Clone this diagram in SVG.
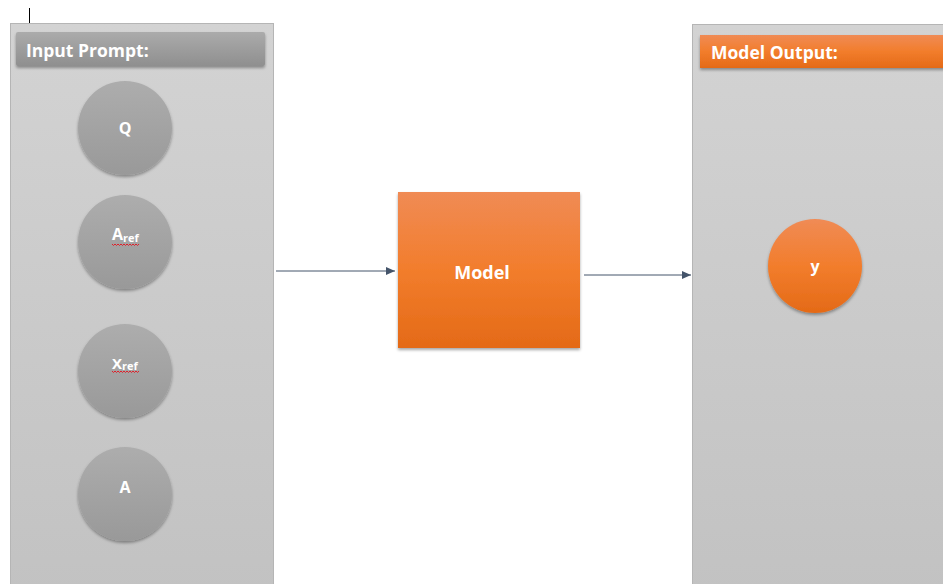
<svg xmlns="http://www.w3.org/2000/svg" width="943" height="584" viewBox="0 0 943 584">
<defs>
<linearGradient id="panel" x1="0" y1="0" x2="0" y2="1"><stop offset="0" stop-color="#d3d3d3"/><stop offset="1" stop-color="#c2c2c2"/></linearGradient>
<linearGradient id="grayBar" x1="0" y1="0" x2="0" y2="1"><stop offset="0" stop-color="#ababab"/><stop offset="1" stop-color="#8f8f8f"/></linearGradient>
<linearGradient id="grayCircle" x1="0" y1="0" x2="0" y2="1"><stop offset="0" stop-color="#adadad"/><stop offset="1" stop-color="#999999"/></linearGradient>
<linearGradient id="orange" x1="0" y1="0" x2="0" y2="1"><stop offset="0" stop-color="#f08b55"/><stop offset="0.5" stop-color="#f27d2c"/><stop offset="1" stop-color="#e46a17"/></linearGradient>
<filter id="sh" x="-20%" y="-20%" width="140%" height="140%"><feDropShadow dx="0" dy="2" stdDeviation="1.5" flood-color="#000" flood-opacity="0.35"/></filter>
<marker id="arr" markerWidth="10" markerHeight="8" refX="9" refY="4" orient="auto" markerUnits="userSpaceOnUse"><path d="M0,0 L9,4 L0,8 Z" fill="#44546a"/></marker>
</defs>
<style>
.lbl{font-family:"Open Sans","Liberation Sans",sans-serif;font-weight:700;fill:#ffffff}
.conn{stroke:#44546a;stroke-width:1;fill:none}
.squig{stroke:#e0202a;stroke-width:1;fill:none}
</style>
<rect width="943" height="584" fill="#ffffff"/>
<line x1="29.5" y1="8" x2="29.5" y2="24" stroke="#000" stroke-width="1"/>
<g id="input-panel">
<rect x="10.5" y="23.5" width="263" height="570" fill="url(#panel)" stroke="#b5b5b5"/>
<rect x="16" y="32" width="249" height="34" rx="2" fill="url(#grayBar)" filter="url(#sh)"/>
<text class="lbl" x="26" y="57" font-size="17.5">Input Prompt:</text>
</g>
<g id="node-Q">
<circle cx="125" cy="128" r="47" fill="url(#grayCircle)" filter="url(#sh)"/>
<text class="lbl" x="125" y="134" font-size="16" text-anchor="middle">Q</text>
</g>
<g id="node-Aref">
<circle cx="125" cy="242" r="47" fill="url(#grayCircle)" filter="url(#sh)"/>
<text class="lbl" x="112" y="240" font-size="16">A<tspan font-size="11" dy="2">ref</tspan></text>
<path class="squig" d="M112,244 l1.5,1.5 l1.5,-1.5 l1.5,1.5 l1.5,-1.5 l1.5,1.5 l1.5,-1.5 l1.5,1.5 l1.5,-1.5 l1.5,1.5 l1.5,-1.5 l1.5,1.5 l1.5,-1.5 l1.5,1.5 l1.5,-1.5 l1.5,1.5 l1.5,-1.5 l1.5,1.5 l1.5,-1.5"/>
</g>
<g id="node-Xref">
<circle cx="125" cy="371" r="47" fill="url(#grayCircle)" filter="url(#sh)"/>
<text class="lbl" x="112" y="369" font-size="15">X<tspan font-size="11" dy="1">ref</tspan></text>
<path class="squig" d="M112,371 l1.5,1.5 l1.5,-1.5 l1.5,1.5 l1.5,-1.5 l1.5,1.5 l1.5,-1.5 l1.5,1.5 l1.5,-1.5 l1.5,1.5 l1.5,-1.5 l1.5,1.5 l1.5,-1.5 l1.5,1.5 l1.5,-1.5 l1.5,1.5 l1.5,-1.5 l1.5,1.5 l1.5,-1.5"/>
</g>
<g id="node-A">
<circle cx="125" cy="494" r="47" fill="url(#grayCircle)" filter="url(#sh)"/>
<text class="lbl" x="125" y="493" font-size="16" text-anchor="middle">A</text>
</g>
<g id="node-Model">
<rect x="398" y="192" width="182" height="156" fill="url(#orange)" filter="url(#sh)"/>
<text class="lbl" x="482" y="279" font-size="18" text-anchor="middle">Model</text>
</g>
<g id="output-panel">
<rect x="692.5" y="24.5" width="260" height="570" fill="url(#panel)" stroke="#b5b5b5"/>
<rect x="700" y="35" width="250" height="33" fill="url(#orange)" filter="url(#sh)"/>
<text class="lbl" x="711" y="59" font-size="17.5">Model Output:</text>
</g>
<g id="node-y">
<circle cx="815" cy="266" r="47" fill="url(#orange)" filter="url(#sh)"/>
<text class="lbl" x="815" y="272" font-size="16" text-anchor="middle">y</text>
</g>
<g id="connectors">
<line class="conn" x1="276" y1="271" x2="395" y2="271" marker-end="url(#arr)"/>
<line class="conn" x1="584" y1="275" x2="691" y2="275" marker-end="url(#arr)"/>
</g>
</svg>
